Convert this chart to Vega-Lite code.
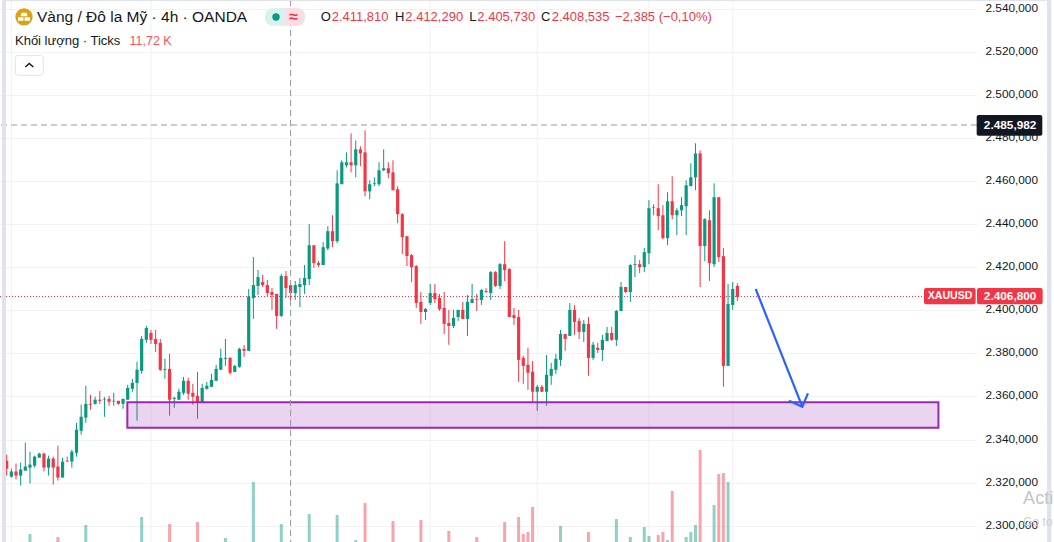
{
"$schema":"https://vega.github.io/schema/vega-lite/v6.json",
"width":977,"height":542,
"autosize":{"type":"none"},
"padding":{"left":0,"top":0,"right":77,"bottom":0},
"background":"#ffffff",
"config":{"view":{"stroke":null},"axisX":{"disable":true},"axisY":{"title":null},"text":{"font":"Liberation Sans"}},
"datasets":{"candles":[
{"i":0,"open":2330.2,"high":2333.0,"low":2323.3,"close":2326.5},
{"i":1,"open":2322.8,"high":2326.5,"low":2322.4,"close":2325.2},
{"i":2,"open":2325.2,"high":2328.9,"low":2321.5,"close":2323.3},
{"i":3,"open":2323.3,"high":2329.3,"low":2318.7,"close":2326.1},
{"i":4,"open":2325.6,"high":2338.6,"low":2325.6,"close":2327.5},
{"i":5,"open":2327.0,"high":2334.4,"low":2319.6,"close":2328.4,"vol":15},
{"i":6,"open":2327.9,"high":2332.6,"low":2327.0,"close":2332.1},
{"i":7,"open":2331.6,"high":2333.9,"low":2331.6,"close":2333.5},
{"i":8,"open":2333.5,"high":2333.9,"low":2325.2,"close":2327.0},
{"i":9,"open":2327.0,"high":2332.6,"low":2323.3,"close":2331.2},
{"i":10,"open":2331.2,"high":2332.1,"low":2319.1,"close":2327.0},
{"i":11,"open":2327.5,"high":2337.2,"low":2321.0,"close":2322.4,"vol":14.25},
{"i":12,"open":2322.4,"high":2331.6,"low":2322.4,"close":2329.8},
{"i":13,"open":2330.2,"high":2332.1,"low":2329.8,"close":2329.8},
{"i":14,"open":2329.8,"high":2335.3,"low":2327.0,"close":2334.4},
{"i":15,"open":2333.9,"high":2347.8,"low":2332.1,"close":2344.6},
{"i":16,"open":2344.1,"high":2356.2,"low":2342.3,"close":2350.6},
{"i":17,"open":2350.2,"high":2365.0,"low":2347.8,"close":2356.6,"vol":17.25},
{"i":18,"open":2356.6,"high":2360.8,"low":2353.9,"close":2356.2},
{"i":19,"open":2356.6,"high":2359.9,"low":2356.2,"close":2358.5},
{"i":20,"open":2358.5,"high":2362.6,"low":2356.6,"close":2358.0},
{"i":21,"open":2358.6,"high":2359.7,"low":2350.6,"close":2358.9},
{"i":22,"open":2358.9,"high":2360.3,"low":2355.7,"close":2357.6},
{"i":23,"open":2357.7,"high":2361.7,"low":2355.7,"close":2358.0},
{"i":24,"open":2358.0,"high":2358.0,"low":2356.2,"close":2356.6},
{"i":25,"open":2356.6,"high":2358.9,"low":2354.3,"close":2358.9},
{"i":26,"open":2358.5,"high":2365.4,"low":2358.5,"close":2364.0},
{"i":27,"open":2363.6,"high":2368.2,"low":2362.2,"close":2366.3},
{"i":28,"open":2366.3,"high":2376.1,"low":2348.8,"close":2372.4},
{"i":29,"open":2371.9,"high":2388.1,"low":2370.5,"close":2386.7,"vol":19.25},
{"i":30,"open":2386.3,"high":2392.7,"low":2384.9,"close":2391.8},
{"i":31,"open":2389.5,"high":2390.9,"low":2384.4,"close":2386.3},
{"i":32,"open":2386.7,"high":2390.9,"low":2380.7,"close":2384.4},
{"i":33,"open":2384.9,"high":2386.7,"low":2371.9,"close":2372.4},
{"i":34,"open":2372.4,"high":2377.5,"low":2368.2,"close":2372.8},
{"i":35,"open":2372.8,"high":2379.8,"low":2351.1,"close":2358.5,"vol":17.5},
{"i":36,"open":2358.9,"high":2359.9,"low":2354.8,"close":2359.4},
{"i":37,"open":2358.5,"high":2363.6,"low":2358.5,"close":2362.2},
{"i":38,"open":2361.7,"high":2369.1,"low":2360.8,"close":2367.3},
{"i":39,"open":2367.3,"high":2368.7,"low":2358.5,"close":2361.3},
{"i":40,"open":2361.7,"high":2365.9,"low":2356.2,"close":2359.9},
{"i":41,"open":2360.3,"high":2371.4,"low":2349.7,"close":2357.1,"vol":18},
{"i":42,"open":2357.1,"high":2365.9,"low":2357.1,"close":2364.0},
{"i":43,"open":2363.6,"high":2366.8,"low":2363.1,"close":2365.0},
{"i":44,"open":2364.5,"high":2370.5,"low":2364.5,"close":2367.7},
{"i":45,"open":2367.3,"high":2374.7,"low":2367.3,"close":2372.8},
{"i":46,"open":2372.4,"high":2382.1,"low":2372.4,"close":2377.9},
{"i":47,"open":2377.5,"high":2386.7,"low":2374.2,"close":2377.9,"vol":14},
{"i":48,"open":2377.9,"high":2378.4,"low":2370.1,"close":2371.0},
{"i":49,"open":2371.4,"high":2374.7,"low":2371.4,"close":2374.2},
{"i":50,"open":2373.8,"high":2382.6,"low":2373.3,"close":2382.1},
{"i":51,"open":2382.1,"high":2383.9,"low":2378.4,"close":2381.2},
{"i":52,"open":2381.2,"high":2409.9,"low":2381.2,"close":2406.3},
{"i":53,"open":2405.7,"high":2424.7,"low":2396.0,"close":2411.7,"vol":28},
{"i":54,"open":2411.3,"high":2418.7,"low":2407.1,"close":2415.4},
{"i":55,"open":2413.1,"high":2416.4,"low":2410.8,"close":2411.7},
{"i":56,"open":2411.7,"high":2414.0,"low":2406.6,"close":2408.0},
{"i":57,"open":2408.5,"high":2410.3,"low":2400.2,"close":2407.1},
{"i":58,"open":2407.6,"high":2407.6,"low":2391.4,"close":2397.4},
{"i":59,"open":2397.4,"high":2416.8,"low":2396.9,"close":2415.9,"vol":17.5},
{"i":60,"open":2415.9,"high":2418.2,"low":2405.7,"close":2410.3},
{"i":61,"open":2411.7,"high":2412.2,"low":2404.8,"close":2408.0},
{"i":62,"open":2408.0,"high":2413.6,"low":2404.8,"close":2411.7},
{"i":63,"open":2410.8,"high":2415.0,"low":2401.5,"close":2412.2},
{"i":64,"open":2411.7,"high":2421.0,"low":2407.6,"close":2415.0},
{"i":65,"open":2414.5,"high":2440.0,"low":2411.7,"close":2430.2,"vol":20},
{"i":66,"open":2430.2,"high":2430.2,"low":2419.6,"close":2421.9},
{"i":67,"open":2421.9,"high":2422.8,"low":2420.1,"close":2421.0},
{"i":68,"open":2421.0,"high":2431.6,"low":2421.0,"close":2429.3},
{"i":69,"open":2428.7,"high":2439.0,"low":2427.9,"close":2436.7},
{"i":70,"open":2436.7,"high":2444.1,"low":2429.3,"close":2432.1},
{"i":71,"open":2432.1,"high":2465.0,"low":2431.2,"close":2458.9,"vol":19.75},
{"i":72,"open":2458.5,"high":2469.6,"low":2458.5,"close":2468.7},
{"i":73,"open":2467.3,"high":2473.3,"low":2466.3,"close":2468.7},
{"i":74,"open":2468.7,"high":2482.1,"low":2464.0,"close":2467.3},
{"i":75,"open":2467.3,"high":2478.8,"low":2461.7,"close":2474.7,"vol":13.5},
{"i":76,"open":2474.7,"high":2476.1,"low":2466.8,"close":2472.8},
{"i":77,"open":2473.3,"high":2483.5,"low":2452.9,"close":2455.2,"vol":22.75},
{"i":78,"open":2455.2,"high":2460.3,"low":2451.5,"close":2458.5},
{"i":79,"open":2458.6,"high":2461.7,"low":2457.6,"close":2458.9},
{"i":80,"open":2458.5,"high":2468.7,"low":2457.6,"close":2465.0},
{"i":81,"open":2465.0,"high":2474.7,"low":2464.5,"close":2465.9},
{"i":82,"open":2465.9,"high":2468.7,"low":2461.3,"close":2463.6},
{"i":83,"open":2464.0,"high":2469.6,"low":2455.7,"close":2455.7,"vol":18.25},
{"i":84,"open":2456.2,"high":2457.6,"low":2440.4,"close":2444.6},
{"i":85,"open":2444.6,"high":2445.1,"low":2426.1,"close":2433.9},
{"i":86,"open":2434.4,"high":2434.4,"low":2420.5,"close":2425.2},
{"i":87,"open":2425.6,"high":2426.1,"low":2413.1,"close":2420.1},
{"i":88,"open":2420.5,"high":2421.0,"low":2401.1,"close":2403.4},
{"i":89,"open":2403.9,"high":2408.5,"low":2393.7,"close":2399.2,"vol":18.5},
{"i":90,"open":2399.2,"high":2401.1,"low":2395.5,"close":2400.6},
{"i":91,"open":2403.4,"high":2412.2,"low":2402.5,"close":2408.0},
{"i":92,"open":2408.0,"high":2412.2,"low":2403.4,"close":2405.2},
{"i":93,"open":2405.7,"high":2407.6,"low":2399.7,"close":2400.6},
{"i":94,"open":2401.1,"high":2408.5,"low":2389.0,"close":2393.7},
{"i":95,"open":2394.1,"high":2400.2,"low":2384.0,"close":2392.7,"vol":15.75},
{"i":96,"open":2392.7,"high":2400.2,"low":2391.8,"close":2396.5},
{"i":97,"open":2396.9,"high":2400.2,"low":2395.1,"close":2400.2},
{"i":98,"open":2400.2,"high":2403.9,"low":2396.0,"close":2396.0},
{"i":99,"open":2396.0,"high":2407.1,"low":2388.1,"close":2403.9},
{"i":100,"open":2403.4,"high":2412.2,"low":2403.4,"close":2405.2},
{"i":101,"open":2405.2,"high":2407.6,"low":2399.7,"close":2404.9,"vol":14.25},
{"i":102,"open":2404.8,"high":2409.9,"low":2402.5,"close":2409.4},
{"i":103,"open":2408.9,"high":2410.3,"low":2408.0,"close":2408.5},
{"i":104,"open":2408.0,"high":2418.2,"low":2404.8,"close":2417.7},
{"i":105,"open":2417.7,"high":2418.2,"low":2410.8,"close":2411.3},
{"i":106,"open":2411.3,"high":2421.9,"low":2409.9,"close":2421.4},
{"i":107,"open":2421.4,"high":2432.1,"low":2413.6,"close":2418.7,"vol":18},
{"i":108,"open":2419.1,"high":2419.6,"low":2396.9,"close":2396.9},
{"i":109,"open":2397.8,"high":2401.1,"low":2393.2,"close":2396.4},
{"i":110,"open":2396.9,"high":2400.2,"low":2366.8,"close":2377.0,"vol":19.25},
{"i":111,"open":2377.9,"high":2378.9,"low":2365.9,"close":2374.2,"vol":15},
{"i":112,"open":2374.7,"high":2382.6,"low":2363.1,"close":2371.0,"vol":15.5},
{"i":113,"open":2371.5,"high":2376.5,"low":2357.6,"close":2362.2,"vol":21.75},
{"i":114,"open":2362.2,"high":2365.4,"low":2353.4,"close":2364.5},
{"i":115,"open":2364.5,"high":2365.4,"low":2362.2,"close":2362.2},
{"i":116,"open":2362.2,"high":2379.3,"low":2355.7,"close":2370.1},
{"i":117,"open":2369.6,"high":2375.6,"low":2365.4,"close":2372.8},
{"i":118,"open":2372.4,"high":2379.8,"low":2370.5,"close":2377.5},
{"i":119,"open":2377.0,"high":2390.9,"low":2374.2,"close":2389.0,"vol":17},
{"i":120,"open":2389.0,"high":2389.0,"low":2381.2,"close":2386.7},
{"i":121,"open":2388.1,"high":2403.4,"low":2388.1,"close":2400.2},
{"i":122,"open":2400.2,"high":2402.5,"low":2388.6,"close":2394.6},
{"i":123,"open":2395.1,"high":2396.4,"low":2386.7,"close":2390.0},
{"i":124,"open":2390.0,"high":2395.5,"low":2385.3,"close":2393.7},
{"i":125,"open":2393.7,"high":2396.9,"low":2369.6,"close":2377.9,"vol":15.5},
{"i":126,"open":2377.9,"high":2385.3,"low":2377.0,"close":2384.0},
{"i":127,"open":2382.6,"high":2384.9,"low":2380.2,"close":2381.6},
{"i":128,"open":2381.6,"high":2388.6,"low":2376.5,"close":2386.3},
{"i":129,"open":2385.8,"high":2392.3,"low":2385.8,"close":2389.5},
{"i":130,"open":2389.5,"high":2392.3,"low":2385.8,"close":2386.3},
{"i":131,"open":2386.3,"high":2400.2,"low":2383.5,"close":2399.7,"vol":18.75},
{"i":132,"open":2399.7,"high":2413.1,"low":2399.7,"close":2410.8},
{"i":133,"open":2410.8,"high":2410.8,"low":2408.0,"close":2408.5},
{"i":134,"open":2408.5,"high":2421.4,"low":2403.9,"close":2421.0,"vol":14.25},
{"i":135,"open":2421.0,"high":2425.6,"low":2415.4,"close":2421.4},
{"i":136,"open":2421.4,"high":2423.3,"low":2417.3,"close":2420.1},
{"i":137,"open":2420.1,"high":2428.9,"low":2417.7,"close":2427.0,"vol":16.75},
{"i":138,"open":2426.5,"high":2451.1,"low":2421.4,"close":2447.4,"vol":14.5},
{"i":139,"open":2447.8,"high":2449.2,"low":2444.1,"close":2447.5},
{"i":140,"open":2447.4,"high":2458.5,"low":2437.2,"close":2443.7,"vol":14.75},
{"i":141,"open":2444.1,"high":2448.8,"low":2433.0,"close":2433.5,"vol":15.5},
{"i":142,"open":2433.5,"high":2454.8,"low":2430.2,"close":2450.6,"vol":13.5},
{"i":143,"open":2450.6,"high":2462.2,"low":2442.3,"close":2444.1,"vol":25.75},
{"i":144,"open":2444.1,"high":2447.4,"low":2434.9,"close":2446.4},
{"i":145,"open":2446.4,"high":2452.5,"low":2443.7,"close":2448.8},
{"i":146,"open":2448.3,"high":2460.3,"low":2434.9,"close":2458.0,"vol":14.25},
{"i":147,"open":2457.6,"high":2468.2,"low":2457.6,"close":2461.7,"vol":15.5},
{"i":148,"open":2461.7,"high":2477.5,"low":2455.7,"close":2472.8,"vol":17.25},
{"i":149,"open":2472.8,"high":2474.2,"low":2410.8,"close":2429.8,"vol":36},
{"i":150,"open":2429.8,"high":2442.7,"low":2422.8,"close":2442.3},
{"i":151,"open":2441.8,"high":2446.4,"low":2413.6,"close":2421.9},
{"i":152,"open":2421.4,"high":2458.9,"low":2420.1,"close":2452.5,"vol":22.25},
{"i":153,"open":2452.5,"high":2452.5,"low":2422.4,"close":2424.7,"vol":30},
{"i":154,"open":2425.1,"high":2428.9,"low":2364.5,"close":2374.2,"vol":30.25},
{"i":155,"open":2374.2,"high":2412.2,"low":2374.2,"close":2402.9,"vol":28},
{"i":156,"open":2402.5,"high":2413.1,"low":2400.2,"close":2409.9},
{"i":157,"open":2411.3,"high":2412.6,"low":2404.3,"close":2406.2}
]},
"layer":[
{"data":{"values":[{"i":1},{"i":31},{"i":61},{"i":91},{"i":114},{"i":138},{"i":156}]},
 "mark":{"type":"rule","color":"#f0f1f4","strokeWidth":1},
 "encoding":{"x":{"field":"i","type":"quantitative","scale":{"domain":[-1.44,208.49],"nice":false,"zero":false}}}},
{"data":{"name":"candles"},
 "transform":[{"filter":"isValid(datum.vol)"}],
 "mark":{"type":"rule","strokeWidth":3,"opacity":0.45,"clip":true},
 "encoding":{
  "x":{"field":"i","type":"quantitative","scale":{"domain":[-1.44,208.49],"nice":false,"zero":false}},
  "y":{"field":"vol","type":"quantitative","axis":null,"scale":{"domain":[13,148.5],"nice":false,"zero":false}},
  "y2":{"datum":0},
  "color":{"condition":{"test":"datum.close>=datum.open","value":"#089981"},"value":"#f23645"}}},
{"encoding":{},"layer":[
 {"data":{"values":[{"price":2406.4,"i":-1.44,"i2":197.1}]},
  "mark":{"type":"rule","stroke":"#f23645","strokeOpacity":1,"strokeWidth":1,"strokeDash":[1,2]},
  "encoding":{"x":{"field":"i","type":"quantitative","scale":{"domain":[-1.44,208.49],"nice":false,"zero":false}},"x2":{"field":"i2"},
   "y":{"field":"price","type":"quantitative","title":null,"scale":{"domain":[2292.48,2543.99],"nice":false,"zero":false},
    "axis":{"orient":"right","values":[2300,2320,2340,2360,2380,2400,2420,2440,2460,2480,2500,2520,2540],"grid":true,"gridColor":"#f1f2f5","gridWidth":1,"domain":false,"ticks":false,"labelPadding":8,"labelOffset":-1.5,"labelFont":"Liberation Sans","labelFontSize":11.8,"labelColor":"#131722","labelExpr":"replace(format(datum.value,',.0f'),',','.')+',000'","title":null}}}},
 {"data":{"name":"candles"},
  "mark":{"type":"rule","strokeWidth":1},
  "encoding":{"x":{"field":"i","type":"quantitative","scale":{"domain":[-1.44,208.49],"nice":false,"zero":false}},
   "y":{"field":"low","type":"quantitative","title":null,"scale":{"domain":[2292.48,2543.99],"nice":false,"zero":false}},"y2":{"field":"high"},
   "color":{"condition":{"test":"datum.close>=datum.open","value":"#089981"},"value":"#f23645"}}},
 {"data":{"name":"candles"},
  "mark":{"type":"rule","strokeWidth":3.2},
  "encoding":{"x":{"field":"i","type":"quantitative","scale":{"domain":[-1.44,208.49],"nice":false,"zero":false}},
   "y":{"field":"open","type":"quantitative","title":null,"scale":{"domain":[2292.48,2543.99],"nice":false,"zero":false}},"y2":{"field":"close"},
   "color":{"condition":{"test":"datum.close>=datum.open","value":"#089981"},"value":"#f23645"}}},
 {"data":{"values":[{"i":25.92,"i2":200.2,"price":2357.31,"price2":2345.52}]},
  "mark":{"type":"rect","fill":"#9c27b0","fillOpacity":0.2,"stroke":"#9c27b0","strokeWidth":2},
  "encoding":{"x":{"field":"i","type":"quantitative","scale":{"domain":[-1.44,208.49],"nice":false,"zero":false}},"x2":{"field":"i2"},
   "y":{"field":"price","type":"quantitative","title":null,"scale":{"domain":[2292.48,2543.99],"nice":false,"zero":false}},"y2":{"field":"price2"}}},
 {"data":{"values":[{"seg":"shaft","ord":1,"i":160.94,"price":2409.88},{"seg":"shaft","ord":2,"i":170.95,"price":2355.27},{"seg":"head","ord":1,"i":168.09,"price":2358.05},{"seg":"head","ord":2,"i":170.95,"price":2355.27},{"seg":"head","ord":3,"i":172.17,"price":2361.48}]},
  "mark":{"type":"line","color":"#2962ff","strokeWidth":2.2,"clip":false},
  "encoding":{"x":{"field":"i","type":"quantitative","scale":{"domain":[-1.44,208.49],"nice":false,"zero":false}},
   "y":{"field":"price","type":"quantitative","title":null,"scale":{"domain":[2292.48,2543.99],"nice":false,"zero":false}},
   "detail":{"field":"seg"},"order":{"field":"ord"}}},
 {"data":{"values":[{"i":61}]},
  "mark":{"type":"rule","color":"#9598a1","strokeWidth":1,"strokeDash":[6,4]},
  "encoding":{"x":{"field":"i","type":"quantitative","scale":{"domain":[-1.44,208.49],"nice":false,"zero":false}}}},
 {"data":{"values":[{"price":2485.98}]},
  "mark":{"type":"rule","color":"#9598a1","strokeWidth":1,"strokeDash":[6,4]},
  "encoding":{"y":{"field":"price","type":"quantitative","title":null,"scale":{"domain":[2292.48,2543.99],"nice":false,"zero":false}}}},
 {"encoding":{"x":{"field":"i","type":"quantitative","scale":{"domain":[-1.44,208.49],"nice":false,"zero":false}},
   "y":{"field":"price","type":"quantitative","title":null,"scale":{"domain":[2292.48,2543.99],"nice":false,"zero":false}},
   "text":{"field":"t"}},
  "layer":[
  {"data":{"values":[{"i":-1.01,"i2":-0.15,"price":2543.99,"price2":2292.48},{"i":223.53,"i2":224.45,"price":2543.99,"price2":2292.48},{"i":-1.01,"i2":224.45,"price":2543.99,"price2":2543.5}]},
   "mark":{"type":"rect","fill":"#e0e3eb","clip":false},"encoding":{"x2":{"field":"i2"},"y2":{"field":"price2"}}},
  {"data":{"values":[{"i":208.42,"i2":222.52,"price":2490.63,"price2":2481.02}]},
   "mark":{"type":"rect","fill":"#131722","cornerRadius":2,"clip":false},"encoding":{"x2":{"field":"i2"},"y2":{"field":"price2"}}},
  {"data":{"values":[{"i":197.1,"i2":208.2,"price":2410.35,"price2":2402.78},{"i":208.49,"i2":222.6,"price":2410.35,"price2":2402.78}]},
   "mark":{"type":"rect","fill":"#f23645","cornerRadius":2,"clip":false},"encoding":{"x2":{"field":"i2"},"y2":{"field":"price2"}}},
  {"data":{"values":[{"i":215.6,"price":2486.0,"t":"2.485,982"},{"i":215.6,"price":2406.64,"t":"2.406,800"}]},
   "mark":{"type":"text","color":"#ffffff","fontSize":11.8,"fontWeight":"bold","align":"center","baseline":"middle"}},
  {"data":{"values":[{"i":202.7,"price":2406.64,"t":"XAUUSD"}]},
   "mark":{"type":"text","color":"#ffffff","fontSize":10.6,"fontWeight":"bold","align":"center","baseline":"middle"}},
  {"data":{"values":[{"i":55.5,"i2":59.8,"price":2540.28,"price2":2532.06}]},
   "mark":{"type":"rect","fill":"#daf1ed","cornerRadiusTopLeft":8,"cornerRadiusBottomLeft":8},"encoding":{"x2":{"field":"i2"},"y2":{"field":"price2"}}},
  {"data":{"values":[{"i":59.8,"i2":64.1,"price":2540.28,"price2":2532.06}]},
   "mark":{"type":"rect","fill":"#fbdde6","cornerRadiusTopRight":8,"cornerRadiusBottomRight":8},"encoding":{"x2":{"field":"i2"},"y2":{"field":"price2"}}},
  {"data":{"values":[{"i":57.87,"price":2536.1}]},
   "mark":{"type":"point","filled":true,"shape":"circle","size":55,"color":"#089981","opacity":1}},
  {"data":{"values":[{"i":3.72,"price":2536.2}]},
   "mark":{"type":"point","filled":true,"shape":"circle","size":300,"color":"#dba313","opacity":1}},
  {"data":{"values":[{"i":3.72,"price":2536.2}]},
   "mark":{"type":"point","filled":true,"shape":"M-0.5,-0.8L0.5,-0.8L0.7,-0.1L-0.7,-0.1ZM-1.2,0.1L-0.1,0.1L-0.1,0.8L-1.2,0.8ZM0.1,0.1L1.2,0.1L1.2,0.8L0.1,0.8Z","size":100,"color":"#ffffff","opacity":1}},
  {"data":{"values":[{"i":1.85,"i2":7.86,"price":2518.33,"price2":2509.05}]},
   "mark":{"type":"rect","fill":"#ffffff","stroke":"#e0e3eb","strokeWidth":1,"cornerRadius":3},"encoding":{"x2":{"field":"i2"},"y2":{"field":"price2"}}},
  {"data":{"values":[{"i":4.86,"price":2513.83}]},
   "mark":{"type":"point","filled":false,"shape":"M-1,0.5L0,-0.4L1,0.5","size":64,"color":"#131722","strokeWidth":1.4,"opacity":1}},
  {"data":{"values":[{"i":61.67,"price":2536.1,"t":"≈"}]},
   "mark":{"type":"text","color":"#f23645","fontSize":16,"fontWeight":"bold","align":"center","baseline":"middle"}},
  {"data":{"values":[{"i":6.51,"price":2536.33,"t":"Vàng / Đô la Mỹ · 4h · OANDA"}]},
   "mark":{"type":"text","color":"#131722","fontSize":15.5,"align":"left","baseline":"middle"}},
  {"data":{"values":[{"i":1.78,"price":2524.97,"t":"Khối lượng · Ticks"}]},
   "mark":{"type":"text","color":"#131722","fontSize":13,"align":"left","baseline":"middle"}},
  {"data":{"values":[{"i":26.39,"price":2524.97,"t":"11,72 K"}]},
   "mark":{"type":"text","color":"#f7525f","fontSize":12.5,"align":"left","baseline":"middle"}},
  {"data":{"values":[{"i":67.47,"price":2536.1,"t":"O"},{"i":83.43,"price":2536.1,"t":"H"},{"i":99.4,"price":2536.1,"t":"L"},{"i":114.8,"price":2536.1,"t":"C"}]},
   "mark":{"type":"text","color":"#131722","fontSize":13,"align":"left","baseline":"middle"}},
  {"data":{"values":[{"i":69.83,"price":2536.1,"t":"2.411,810"},{"i":85.65,"price":2536.1,"t":"2.412,290"},{"i":101.12,"price":2536.1,"t":"2.405,730"},{"i":117.1,"price":2536.1,"t":"2.408,535"},{"i":130.7,"price":2536.1,"t":"−2,385 (−0,10%)"}]},
   "mark":{"type":"text","color":"#f23645","fontSize":13,"align":"left","baseline":"middle"}},
  {"data":{"values":[{"i":218.4,"price":2312.4,"t":"Acti"}]},
   "mark":{"type":"text","color":"#c4c4c4","fontSize":18,"align":"left","baseline":"middle"}},
  {"data":{"values":[{"i":218.4,"price":2301.9,"t":"Go to"}]},
   "mark":{"type":"text","color":"#cfcfcf","fontSize":12,"align":"left","baseline":"middle"}}
 ]}
]}
],
"resolve":{"scale":{"y":"independent"}}
}
